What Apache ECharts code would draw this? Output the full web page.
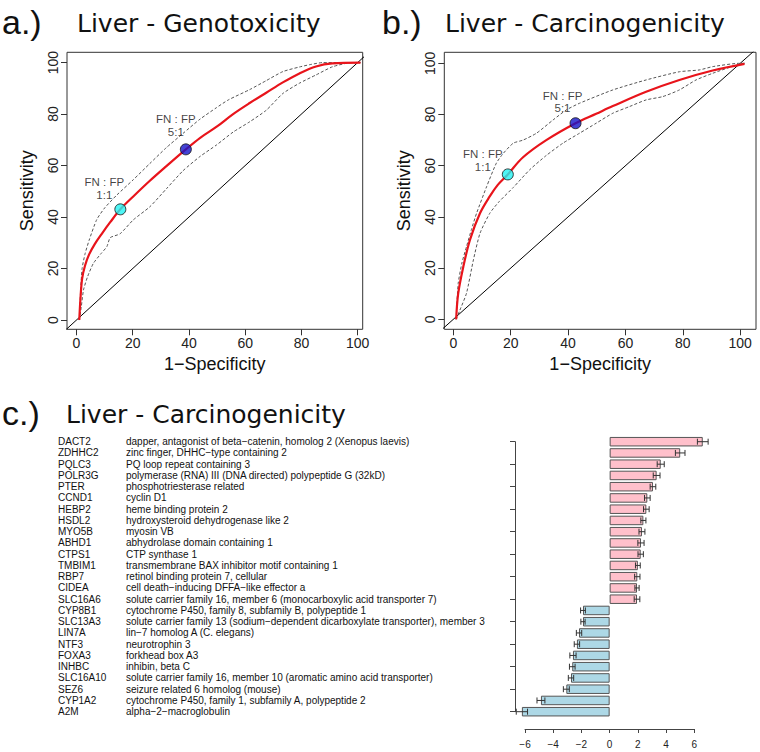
<!DOCTYPE html>
<html><head><meta charset="utf-8">
<script src="https://cdn.jsdelivr.net/npm/echarts@6/dist/echarts.min.js"></script>
<style>html,body{margin:0;padding:0;background:#fff}#c{width:760px;height:752px}</style>
</head><body><div id="c"></div>
<script>
// ---------- ROC data (1-Specificity, Sensitivity) ----------
const rocTicks = [0, 20, 40, 60, 80, 100];
const diagonal = [[-10, -10], [110, 110]];

const genoFit = [[1,0],[1.4,8],[2,16],[3,21],[4.5,25.5],[6.5,29.5],[9,33.5],[12,38],[15.6,43],[20.2,48],[26,54],[32,59.8],[38.9,66.3],[44,70.8],[50,75.2],[55.7,80],[61.6,84.3],[67.5,88.3],[73.4,92.3],[79.3,95.8],[85.2,98.5],[91,99.7],[101,100]];
const genoUpper = [[1,0],[1.5,12],[2,20],[3,25.5],[4.5,31],[7.2,39],[10,43.5],[14.3,48.5],[20.2,54.5],[26.1,60.8],[32,67],[37.9,72.5],[43.9,78],[49.8,82.5],[54,85.5],[61.6,89.5],[67.5,93],[73.4,96.5],[79.3,98.3],[83,99.2],[87.6,100],[101,100]];
const genoLower = [[1,0],[1.7,5],[2.5,11.7],[4,17],[6,22],[8.5,25.5],[10.8,28.5],[12,32],[15.5,33.5],[20.2,38.9],[26.1,44],[32,51],[37.9,58],[43.9,63.5],[49.8,68],[55.7,73],[61.6,77],[67.5,81.5],[73.4,88],[79.3,92],[85.2,95.2],[91.1,98.4],[98,100],[101,100]];
const genoCutoffs = [[15.6, 43], [38.9, 66.3]];

const carcFit = [[1,0],[1.7,10],[3.5,20.6],[5.8,31],[9.3,41.4],[12.7,48],[15.5,52.5],[19,56.6],[24.3,63.3],[32.4,70],[42.6,76.6],[49.8,80.3],[55.6,83.3],[67.2,88.9],[78.8,93.5],[90.4,97.2],[101.5,99.8]];
const carcUpper = [[1,0],[1.7,14],[3,22],[4.6,28.4],[6.3,35],[8.1,41.4],[11.6,51.8],[15,61],[17.4,64.8],[20.9,68.8],[24.3,70],[29,72.7],[34.8,77.9],[39.4,81.8],[44,84.4],[55.6,89.6],[67.2,93.5],[78.8,96.7],[85.7,97.4],[90.4,98.7],[99.7,100],[101.5,100]];
const carcLower = [[1,0],[2.3,3.6],[4.6,10.2],[7,23.2],[9.3,33.6],[12.7,41.4],[16,46],[20.9,51.5],[26.7,58.5],[32.4,64],[38.2,68.8],[44,72.7],[49.8,76.6],[55.6,80.5],[61.4,83.1],[67.2,85.7],[73,87],[78.8,89.6],[84.6,93.5],[90.4,96.1],[99.7,99.7],[101.5,100]];
const carcCutoffs = [[19, 56.6], [42.6, 76.6]];

const cutoffRatios = ['1:1', '5:1'];

// ---------- Bar chart data ----------
const genes = ['DACT2','ZDHHC2','PQLC3','POLR3G','PTER','CCND1','HEBP2','HSDL2','MYO5B','ABHD1','CTPS1','TMBIM1','RBP7','CIDEA','SLC16A6','CYP8B1','SLC13A3','LIN7A','NTF3','FOXA3','INHBC','SLC16A10','SEZ6','CYP1A2','A2M'];
const descriptions = [
 'dapper, antagonist of beta\u2212catenin, homolog 2 (Xenopus laevis)',
 'zinc finger, DHHC\u2212type containing 2',
 'PQ loop repeat containing 3',
 'polymerase (RNA) III (DNA directed) polypeptide G (32kD)',
 'phosphotriesterase related',
 'cyclin D1',
 'heme binding protein 2',
 'hydroxysteroid dehydrogenase like 2',
 'myosin VB',
 'abhydrolase domain containing 1',
 'CTP synthase 1',
 'transmembrane BAX inhibitor motif containing 1',
 'retinol binding protein 7, cellular',
 'cell death\u2212inducing DFFA\u2212like effector a',
 'solute carrier family 16, member 6 (monocarboxylic acid transporter 7)',
 'cytochrome P450, family 8, subfamily B, polypeptide 1',
 'solute carrier family 13 (sodium\u2212dependent dicarboxylate transporter), member 3',
 'lin\u22127 homolog A (C. elegans)',
 'neurotrophin 3',
 'forkhead box A3',
 'inhibin, beta C',
 'solute carrier family 16, member 10 (aromatic amino acid transporter)',
 'seizure related 6 homolog (mouse)',
 'cytochrome P450, family 1, subfamily A, polypeptide 2',
 'alpha\u22122\u2212macroglobulin'
];
const scores = [6.6, 5.0, 3.62, 3.33, 3.07, 2.67, 2.6, 2.39, 2.29, 2.22, 2.2, 2.0, 1.96, 1.94, 1.94, -1.89, -1.89, -2.17, -2.32, -2.6, -2.65, -2.74, -3.07, -4.87, -6.22];
const scoreErrors = [0.38, 0.34, 0.25, 0.24, 0.2, 0.2, 0.2, 0.18, 0.21, 0.22, 0.19, 0.17, 0.19, 0.15, 0.2, 0.17, 0.15, 0.19, 0.19, 0.22, 0.2, 0.19, 0.21, 0.28, 0.4];

// ---------- styling ----------
const SANS = 'Liberation Sans, Arial, Helvetica, sans-serif';
const TITLE = 'DejaVu Sans, sans-serif';
const minus = s => String(s).replace('-', '\u2212');

function rocAxes(gi, xmin, xmax, ymin, ymax) {
  const x = {
    type: 'value', gridIndex: gi, min: xmin, max: xmax,
    axisLine: {show: false, onZero: false},
    axisTick: {show: true, customValues: rocTicks, length: 6, lineStyle: {color: '#333'}},
    axisLabel: {customValues: rocTicks, fontSize: 14, fontFamily: SANS, color: '#222', margin: 7},
    splitLine: {show: false},
    name: '1\u2212Specificity', nameLocation: 'middle', nameGap: 26,
    nameTextStyle: {fontSize: 18, fontFamily: SANS, color: '#111'}
  };
  const y = {
    type: 'value', gridIndex: gi, min: ymin, max: ymax,
    axisLine: {show: false, onZero: false},
    axisTick: {show: true, customValues: rocTicks, length: 6, lineStyle: {color: '#333'}},
    axisLabel: {customValues: rocTicks, fontSize: 14, fontFamily: SANS, color: '#222', margin: 7, rotate: 90},
    splitLine: {show: false},
    name: 'Sensitivity', nameLocation: 'middle', nameGap: 31, nameRotate: 90,
    nameTextStyle: {fontSize: 18, fontFamily: SANS, color: '#111'}
  };
  return [x, y];
}

function rocSeries(gi, fit, upper, lower, cutoffs, labelOffsets) {
  const base = {xAxisIndex: gi, yAxisIndex: gi, symbol: 'none', silent: true, animation: false};
  const colors = ['#22F2F2', '#1414C8'];
  return [
    Object.assign({}, base, {type: 'line', data: diagonal, lineStyle: {color: '#000', width: 1}, z: 2}),
    Object.assign({}, base, {type: 'line', data: upper, smooth: 0.2, lineStyle: {color: '#555', width: 1, type: [3, 2]}, z: 3}),
    Object.assign({}, base, {type: 'line', data: lower, smooth: 0.2, lineStyle: {color: '#555', width: 1, type: [3, 2]}, z: 3}),
    Object.assign({}, base, {type: 'line', data: fit, smooth: 0.35, lineStyle: {color: '#E8141B', width: 2.2}, z: 4}),
    {
      type: 'scatter', xAxisIndex: gi, yAxisIndex: gi, symbolSize: 11, z: 5, animation: false, silent: true,
      data: cutoffs.map((p, i) => ({
        value: p,
        itemStyle: {color: colors[i], borderColor: '#111', borderWidth: 1},
        label: {
          show: true, position: 'inside', offset: labelOffsets[i],
          formatter: 'FN : FP\n' + cutoffRatios[i],
          fontSize: 11.5, lineHeight: 12.5, fontFamily: SANS, color: '#111', align: 'center'
        }
      }))
    }
  ];
}

const axA = rocAxes(0, -3.37, 101.8, -3.6, 104);
const axB = rocAxes(1, -3.14, 105.5, -3.9, 104.3);

const catAxisBase = {
  type: 'category', gridIndex: 2, data: genes, inverse: true, boundaryGap: false, position: 'left'
};

const option = {
  animation: false,
  backgroundColor: '#fff',
  grid: [
    {left: 67, top: 52.3, width: 295.7, height: 277, show: true, borderColor: '#333', borderWidth: 1, backgroundColor: 'transparent'},
    {left: 444.3, top: 52.3, width: 311.7, height: 277, show: true, borderColor: '#333', borderWidth: 1, backgroundColor: 'transparent'},
    {left: 525, top: 441.7, width: 169.3, height: 270}
  ],
  xAxis: [axA[0], axB[0], {
    type: 'value', gridIndex: 2, min: -6, max: 6, interval: 2, offset: 17.3,
    axisLine: {show: true, onZero: false, lineStyle: {color: '#444'}},
    axisTick: {show: true, length: 4, lineStyle: {color: '#444'}},
    axisLabel: {fontSize: 10, fontFamily: SANS, color: '#222', margin: 10, formatter: v => minus(v)},
    splitLine: {show: false}
  }],
  yAxis: [axA[1], axB[1],
    Object.assign({}, catAxisBase, {
      offset: 10,
      axisLine: {show: true, onZero: false, lineStyle: {color: '#444'}},
      axisTick: {show: true, length: 5, alignWithLabel: true, lineStyle: {color: '#444'}},
      axisLabel: {show: false}
    }),
    Object.assign({}, catAxisBase, {
      axisLine: {show: false, onZero: false}, axisTick: {show: false},
      axisLabel: {interval: 0, align: 'left', margin: 467, fontSize: 10, fontFamily: SANS, color: '#111'}
    }),
    Object.assign({}, catAxisBase, {
      axisLine: {show: false, onZero: false}, axisTick: {show: false},
      axisLabel: {interval: 0, align: 'left', margin: 399, fontSize: 10, fontFamily: SANS, color: '#111',
        formatter: (v, i) => descriptions[i]}
    })
  ],
  graphic: [
    {type: 'text', x: 2, y: 21.5, style: {text: 'a.)', font: '34px ' + SANS, fill: '#111', verticalAlign: 'middle'}},
    {type: 'text', x: 77, y: 23.5, style: {text: 'Liver - Genotoxicity', font: '25px ' + TITLE, fill: '#111', verticalAlign: 'middle'}},
    {type: 'text', x: 382, y: 21.5, style: {text: 'b.)', font: '34px ' + SANS, fill: '#111', verticalAlign: 'middle'}},
    {type: 'text', x: 445, y: 23.5, style: {text: 'Liver - Carcinogenicity', font: '25px ' + TITLE, fill: '#111', verticalAlign: 'middle'}},
    {type: 'text', x: 2, y: 412.8, style: {text: 'c.)', font: '34px ' + SANS, fill: '#111', verticalAlign: 'middle'}},
    {type: 'text', x: 66, y: 414.8, style: {text: 'Liver - Carcinogenicity', font: '25px ' + TITLE, fill: '#111', verticalAlign: 'middle'}}
  ],
  series: [
    ...rocSeries(0, genoFit, genoUpper, genoLower, genoCutoffs, [[-16, -21], [-10, -24]]),
    ...rocSeries(1, carcFit, carcUpper, carcLower, carcCutoffs, [[-25, -14], [-13, -21]]),
    {
      type: 'bar', xAxisIndex: 2, yAxisIndex: 2, data: scores, barWidth: 9.5, clip: false, silent: true,
      itemStyle: {
        color: p => (p.value >= 0 ? '#FFC0CB' : '#ADD8E6'),
        borderColor: '#555', borderWidth: 1
      }
    },
    {
      type: 'custom', xAxisIndex: 2, yAxisIndex: 2, silent: true, clip: false, z: 5,
      data: scores.map((v, i) => [v, i, scoreErrors[i]]),
      encode: {x: 0, y: 1},
      renderItem: function (params, api) {
        const v = api.value(0), i = api.value(1), e = api.value(2);
        const a = api.coord([v - e, i]), b = api.coord([v + e, i]);
        const h = 3;
        const st = {stroke: '#333', lineWidth: 1};
        return {type: 'group', children: [
          {type: 'line', shape: {x1: a[0], y1: a[1], x2: b[0], y2: b[1]}, style: st},
          {type: 'line', shape: {x1: a[0], y1: a[1] - h, x2: a[0], y2: a[1] + h}, style: st},
          {type: 'line', shape: {x1: b[0], y1: b[1] - h, x2: b[0], y2: b[1] + h}, style: st}
        ]};
      }
    }
  ]
};

const chart = echarts.init(document.getElementById('c'), null, {renderer: 'svg'});
chart.setOption(option);
</script>
</body></html>
